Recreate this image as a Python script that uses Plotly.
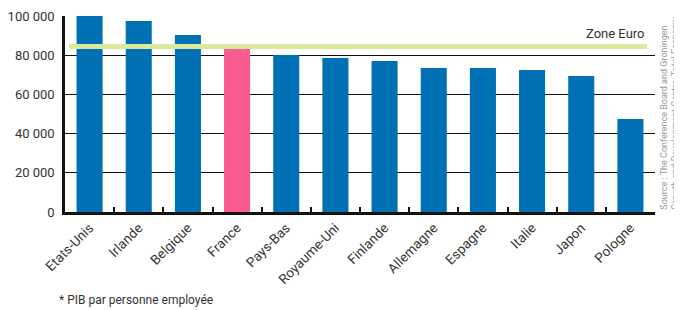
import plotly.graph_objects as go

countries = ["Etats-Unis", "Irlande", "Belgique", "France", "Pays-Bas", "Royaume-Uni",
             "Finlande", "Allemagne", "Espagne", "Italie", "Japon", "Pologne"]
values = [100000, 97400, 90300, 83200, 80100, 78600, 77000, 73500, 73500, 72400, 69400, 47400]
zone_euro = 84500
ytick_vals = [0, 20000, 40000, 60000, 80000, 100000]
ytick_text = ["0", "20 000", "40 000", "60 000", "80 000", "100 000"]

blue = "#0071b4"
pink = "#f85b91"
colors = [pink if c == "France" else blue for c in countries]

fig = go.Figure()
fig.add_trace(go.Bar(x=countries, y=values, marker=dict(color=colors, line=dict(width=0)),
                     width=0.53, hoverinfo="skip"))

font = "Roboto"
fig.update_layout(
    width=682, height=310,
    margin=dict(l=57, r=35, t=8, b=106, autoexpand=False),
    paper_bgcolor="white", plot_bgcolor="white",
    showlegend=False,
    font=dict(family=font, size=13, color="#333"),
)
fig.update_xaxes(
    automargin=False,
    showgrid=False, showline=True, linecolor="#111", linewidth=2.5,
    ticks="inside", tickson="boundaries", ticklen=5, tickwidth=2, tickcolor="#111",
    tickangle=-45, tickfont=dict(size=13.5, color="#333"),
    range=[-0.5, 11.5],
)
fig.update_yaxes(
    automargin=False,
    range=[0, 100000], tickvals=ytick_vals, ticktext=ytick_text,
    showgrid=True, gridcolor="#111", gridwidth=1.2,
    showline=True, linecolor="#111", linewidth=2.5, zeroline=False,
    ticks="", tickfont=dict(size=13, color="#333"), ticklabelstandoff=5,
)
fig.add_shape(type="line", xref="x", yref="y", x0=-0.42, x1=11.34, y0=zone_euro, y1=zone_euro,
              line=dict(color="#d9eb9a", width=5), layer="above")
fig.add_annotation(text="Zone Euro", xref="x", yref="y", x=11.34, y=zone_euro,
                   xanchor="right", yanchor="bottom", yshift=3, showarrow=False,
                   font=dict(size=13, color="#333"))
fig.add_annotation(text="Source : The Conference Board and Groningen<br>Growth and Development Centre, Total Economy",
                   xref="paper", yref="paper", x=1.024, y=0, xanchor="center", yanchor="bottom",
                   textangle=-90, showarrow=False, align="left",
                   font=dict(size=9, color="#999"))
fig.add_annotation(text="* PIB par personne employée", xref="paper", yref="paper",
                   x=-0.0136, y=-0.449, xanchor="left", yanchor="middle",
                   showarrow=False, font=dict(size=12, color="#333"))

fig.write_html("out.html")
